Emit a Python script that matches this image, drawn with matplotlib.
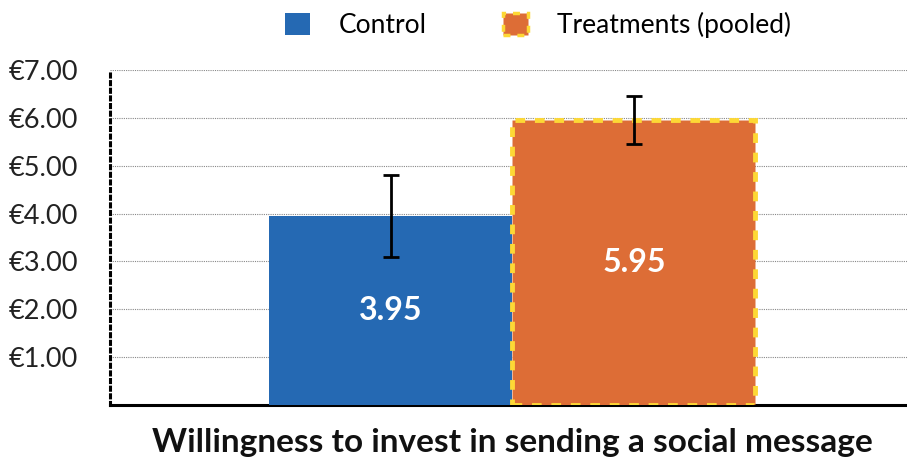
import matplotlib.pyplot as plt
from matplotlib.patches import Patch

plt.rcParams['font.family'] = ['Lato', 'DejaVu Sans']

groups = ["Control", "Treatments (pooled)"]
means = [3.95, 5.95]
err_low = [0.85, 0.50]
err_high = [0.85, 0.50]
yticks = [1, 2, 3, 4, 5, 6, 7]
ytick_labels = ["€1.00", "€2.00", "€3.00", "€4.00", "€5.00", "€6.00", "€7.00"]
title = "Willingness to invest in sending a social message"

blue = "#2569b3"
orange = "#dd6d36"
yellow = "#fdd835"

fig = plt.figure(figsize=(9.07, 4.61), dpi=100)
ax = fig.add_axes([110 / 907, 1 - 405 / 461, 797 / 907, 335 / 461])

x = [0, 1]
ax.bar(x[0], means[0], width=1.0, color=blue, zorder=3)
ax.bar(x[1], means[1], width=1.0, color=orange, edgecolor=yellow,
       linewidth=3.5, linestyle=(0, (2, 2)), zorder=3)
ax.errorbar(x, means, yerr=[err_low, err_high], fmt="none", ecolor="black",
            elinewidth=2, capsize=5.5, capthick=2, zorder=4)

for xi, m in zip(x, means):
    ax.text(xi, m / 2, f"{m:.2f}", ha="center", va="center",
            color="white", fontsize=23, fontweight="bold", zorder=5)

ax.set_xlim(-1.156, 2.124)
ax.set_ylim(0, 7)
ax.set_yticks(yticks)
ax.set_yticklabels(ytick_labels, fontsize=19.5, color="#222222")
ax.set_xticks([])
ax.tick_params(axis="y", length=0, pad=23)
ax.yaxis.grid(True, linestyle=(0, (1, 1)), color="#888888", linewidth=0.8, zorder=0)
ax.set_axisbelow(True)

for s in ["top", "right"]:
    ax.spines[s].set_visible(False)
ax.spines["left"].set_linestyle((0, (1, 1.5)))
ax.spines["left"].set_linewidth(2.2)
ax.spines["bottom"].set_linewidth(2.2)

handles = [Patch(facecolor=blue, label=groups[0]),
           Patch(facecolor=orange, edgecolor=yellow, linewidth=2.5,
                 linestyle=(0, (2, 2)), label=groups[1])]
fig.legend(handles=handles, loc="center", bbox_to_anchor=(538 / 907, 1 - 25 / 461),
           ncol=2, frameon=False, fontsize=19, handlelength=0.95, handleheight=0.95,
           columnspacing=2.9, handletextpad=1.1)

fig.text(512 / 907, 1 - 442 / 461, title, ha="center", va="center",
         fontsize=24, fontweight="bold", color="#111111")

fig.savefig("out.png", dpi=100)
